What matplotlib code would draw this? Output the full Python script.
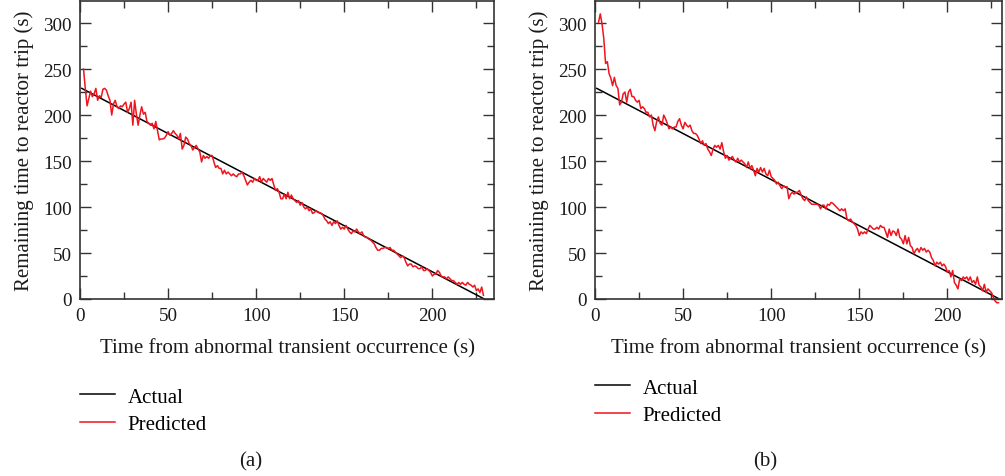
import numpy as np
import matplotlib
matplotlib.use("Agg")
import matplotlib.pyplot as plt
from matplotlib.ticker import MultipleLocator

plt.rcParams['font.family'] = ['Liberation Serif', 'DejaVu Serif']

# actual remaining time: straight line, endpoints
actual_t_a = [1, 229]
actual_v_a = [229, 0.5]
actual_t_b = [1, 229]
actual_v_b = [229, 0.5]

# predicted remaining time, one value per second starting at t = 2 s
pred_a = [250, 229, 210, 218, 226, 220, 223, 229, 216, 221, 219, 228, 229, 227, 221, 216,
          200, 212, 216, 209, 207, 210, 209, 212, 214, 203, 207, 214, 189, 216, 201, 189,
          200, 209, 201, 203, 193, 191, 189, 191, 185, 193, 183, 173, 174, 174, 175, 178,
          182, 178, 180, 183, 180, 178, 174, 180, 163, 167, 176, 174, 169, 167, 162, 165,
          167, 163, 160, 149, 156, 153, 155, 153, 156, 156, 149, 143, 145, 142, 142, 136,
          140, 136, 138, 136, 134, 136, 134, 133, 136, 136, 138, 134, 129, 124, 127, 129,
          127, 131, 129, 129, 133, 127, 131, 129, 127, 131, 129, 131, 124, 118, 120, 116,
          109, 109, 114, 109, 116, 109, 113, 109, 107, 105, 107, 102, 105, 100, 98, 100,
          96, 98, 93, 94, 96, 94, 94, 93, 91, 87, 85, 82, 84, 80, 84, 82, 85, 80, 76, 78,
          76, 80, 76, 73, 71, 74, 73, 76, 73, 71, 73, 69, 67, 67, 65, 64, 62, 60, 56, 53,
          53, 55, 55, 56, 56, 55, 56, 53, 53, 51, 49, 47, 45, 47, 45, 40, 36, 38, 38, 35,
          36, 35, 33, 33, 35, 31, 31, 33, 31, 29, 25, 27, 27, 31, 29, 25, 24, 24, 22, 24,
          22, 20, 20, 18, 16, 18, 16, 18, 16, 15, 18, 16, 15, 13, 15, 9, 11, 7, 13, 4]

pred_b = [301, 310, 299, 283, 256, 258, 245, 240, 232, 241, 232, 229, 211, 214, 223, 225,
          214, 225, 228, 220, 220, 216, 214, 216, 207, 209, 207, 203, 203, 198, 200, 189,
          183, 193, 198, 191, 189, 200, 196, 191, 185, 187, 185, 187, 187, 193, 196, 189,
          185, 192, 189, 187, 189, 183, 180, 180, 178, 174, 169, 172, 167, 169, 163, 160,
          156, 163, 167, 165, 167, 163, 170, 160, 153, 156, 151, 153, 155, 151, 149, 153,
          149, 151, 149, 147, 143, 149, 142, 145, 140, 134, 142, 138, 143, 138, 142, 136,
          134, 140, 133, 131, 129, 125, 127, 123, 120, 123, 122, 122, 109, 114, 116, 114,
          116, 116, 118, 113, 109, 107, 111, 107, 105, 103, 103, 103, 103, 102, 98, 102,
          102, 98, 103, 102, 105, 104, 102, 100, 98, 96, 98, 96, 98, 87, 85, 87, 84, 82,
          80, 76, 69, 73, 71, 73, 71, 76, 80, 78, 76, 76, 78, 76, 80, 78, 78, 73, 67, 76,
          69, 74, 73, 69, 76, 67, 65, 60, 69, 60, 67, 58, 56, 49, 53, 55, 51, 56, 53, 55,
          51, 53, 51, 45, 42, 36, 40, 38, 40, 36, 38, 35, 29, 31, 24, 31, 18, 15, 11, 22,
          20, 24, 22, 24, 20, 24, 18, 20, 16, 24, 15, 13, 9, 16, 7, 11, 9, 7, 2, -2, -4, -4]

t0 = 2

fig = plt.figure(figsize=(10.05, 4.77), dpi=100)
ax_a = fig.add_axes([80 / 1005, 177 / 477, 414 / 1005, 298 / 477])
ax_b = fig.add_axes([595 / 1005, 177 / 477, 407 / 1005, 298 / 477])

panels = [
    (ax_a, actual_t_a, actual_v_a, pred_a, 235, "(a)", 251, 80, 388),
    (ax_b, actual_t_b, actual_v_b, pred_b, 231, "(b)", 765, 595, 379),
]

fs = 13.8      # tick labels
lfs = 15.0     # axis labels, legend, captions
edge = '#333333'
txt = '#1a1a1a'
for ax, at, av, pred, xmax, cap, capx, legx, legy in panels:
    tp = np.arange(t0, t0 + len(pred))
    ax.plot(at, av, color='black', lw=1.1, label='Actual')
    ax.plot(tp, pred, color='#f0141e', lw=1.1, label='Predicted', clip_on=False)
    ax.set_xlim(0, xmax)
    ax.set_ylim(0, 324)
    ax.xaxis.set_major_locator(MultipleLocator(50))
    ax.xaxis.set_minor_locator(MultipleLocator(25))
    ax.yaxis.set_major_locator(MultipleLocator(50))
    ax.yaxis.set_minor_locator(MultipleLocator(25))
    ax.tick_params(which='both', direction='in', top=True, right=True,
                   color=edge, width=1.0, labelsize=fs, pad=6, labelcolor=txt)
    ax.tick_params(which='major', length=8)
    ax.tick_params(which='minor', length=5)
    for s in ax.spines.values():
        s.set_color(edge)
        s.set_linewidth(1.2)
    ax.set_xlabel("Time from abnormal transient occurrence (s)", fontsize=lfs,
                  color=txt, labelpad=10)
    ax.set_ylabel("Remaining time to reactor trip (s)", fontsize=lfs,
                  color=txt, labelpad=6.5)
    ax.legend(loc='upper left', bbox_to_anchor=(legx / 1005, 1 - legy / 477),
              bbox_transform=fig.transFigure, frameon=False, fontsize=lfs,
              handlelength=1.68, handletextpad=0.6, borderpad=0, borderaxespad=0,
              labelspacing=0.38)
    fig.text(capx / 1005, 1 - 462 / 477, cap, ha='center', va='center',
             fontsize=lfs, color=txt)

fig.savefig("out.png", dpi=100)
